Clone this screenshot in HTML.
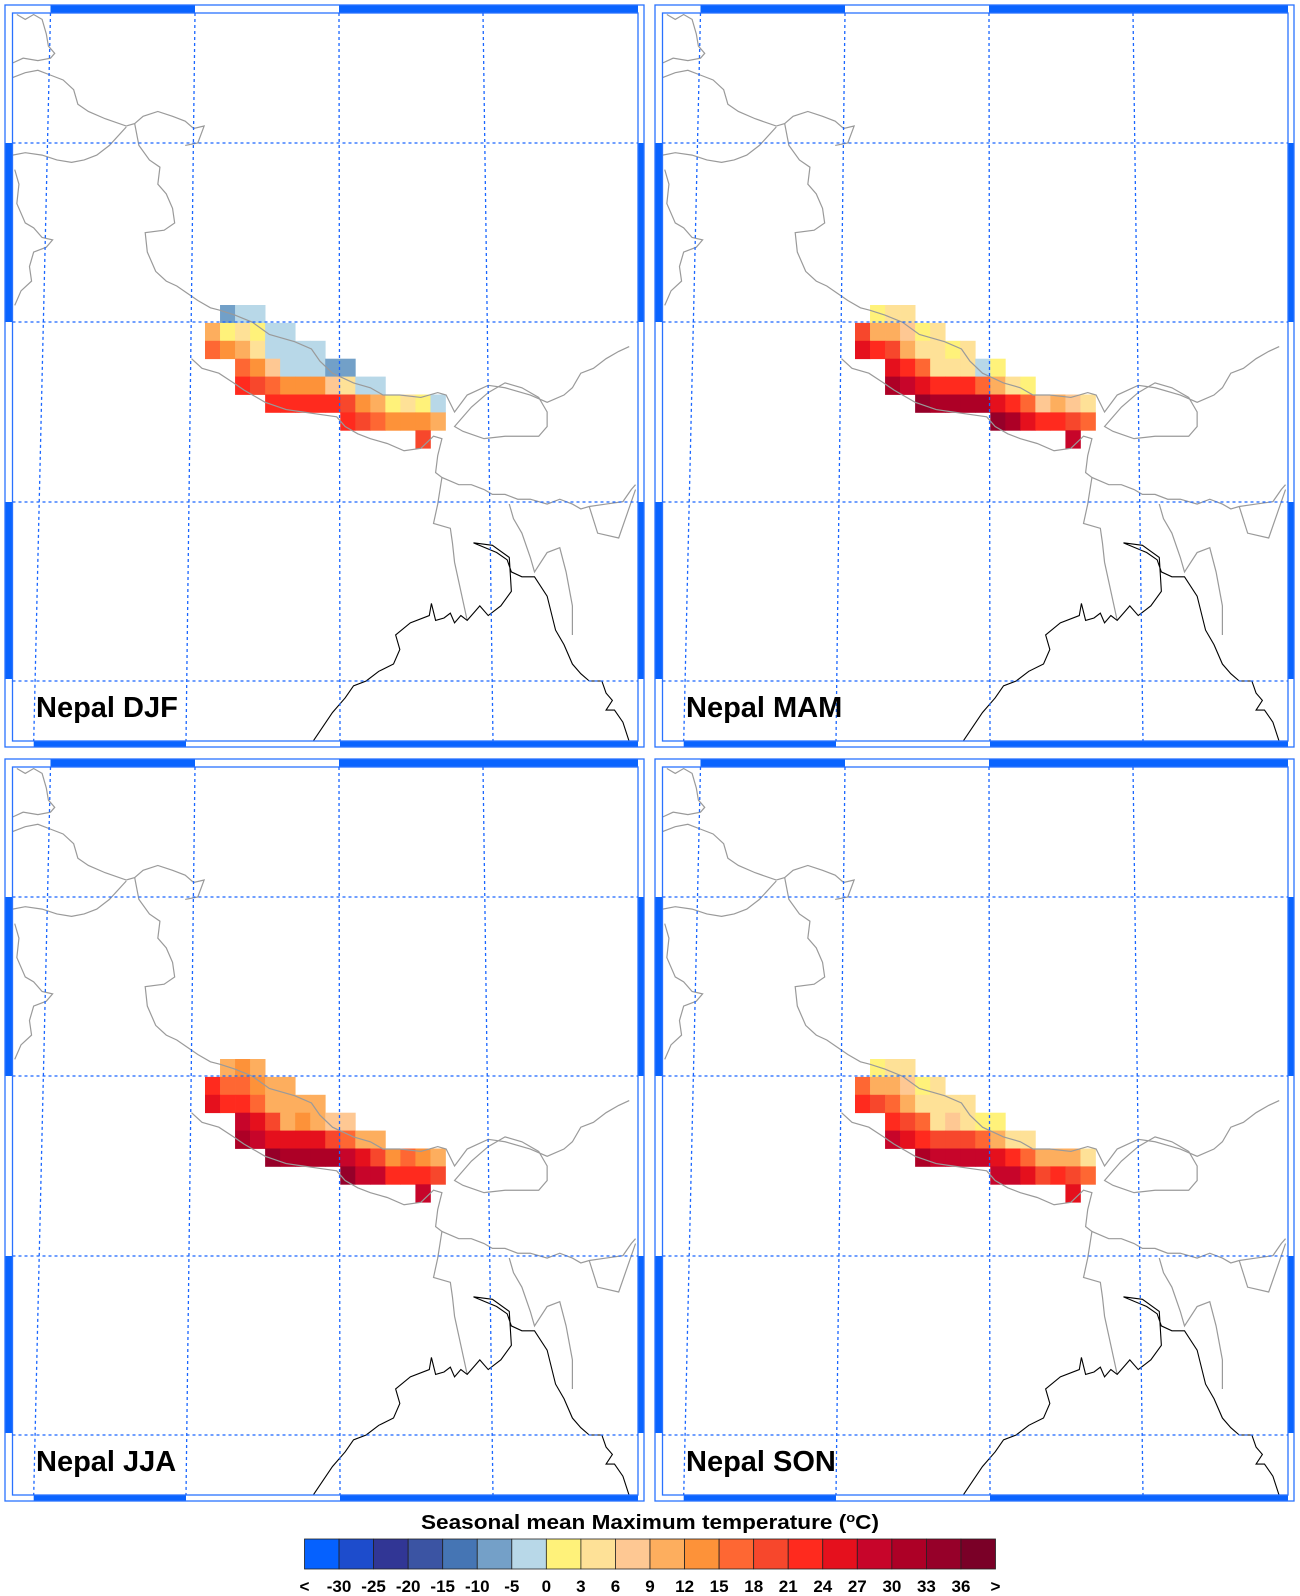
<!DOCTYPE html>
<html><head><meta charset="utf-8">
<style>
html,body{margin:0;padding:0;background:#fff;}
svg{display:block;}
text{font-family:"Liberation Sans",Arial,sans-serif;font-weight:bold;fill:#000;}
</style></head>
<body>
<svg id="s" width="1300" height="1596" viewBox="0 0 1300 1596" xmlns="http://www.w3.org/2000/svg">
<defs>
<g id="map">
 <g transform="scale(0.42088,0.48469)" fill="none" stroke="#9a9a9a" stroke-width="1.2">
  <path vector-effect="non-scaling-stroke" d="M30,130 L55,120 L90,125 L120,120 L130,110 L115,95 L110,70 L100,40 L80,30 L60,40 L40,30"/>
  <path vector-effect="non-scaling-stroke" d="M30,160 L60,150 L90,145 L120,155 L150,165 L175,185 L185,215 L210,230 L250,245 L300,260 L320,255 L340,240 L375,230 L410,240 L440,250 L460,265 L485,260 L470,295 L440,300"/>
  <path vector-effect="non-scaling-stroke" d="M30,320 L60,315 L100,320 L135,330 L170,335 L200,330 L230,320 L260,300 L300,262"/>
  <path vector-effect="non-scaling-stroke" d="M320,255 L330,300 L355,330 L380,345 L375,380 L395,400 L410,430 L415,460 L390,475 L345,480 L350,520 L370,560 L395,580 L420,590 L445,605 L470,620 L500,635 L522,640 L558,650 L600,665 L640,690 L700,705 L740,720 L760,745 L790,770 L840,790 L880,800 L910,815 L950,815 L1000,820 L1040,810 L1060,815 L1080,850 L1110,815 L1160,795 L1200,800 L1260,815 L1300,830 L1340,815 L1360,800 L1380,770 L1410,760 L1440,740 L1470,725 L1495,715"/>
  <path vector-effect="non-scaling-stroke" d="M35,350 L45,380 L40,420 L60,460 L80,470 L100,490 L125,495 L110,510 L80,520 L70,550 L75,580 L50,600 L35,630"/>
  <path vector-effect="non-scaling-stroke" d="M455,740 L480,760 L520,770 L555,790 L580,805 L630,830 L680,845 L720,850 L760,855 L800,860 L820,880 L850,895 L880,905 L920,915 L960,930 L1000,925 L1030,900 L1050,905 L1040,940 L1035,975 L1050,985 L1090,1000 L1120,1000 L1150,1010 L1170,1020 L1200,1020 L1230,1030 L1260,1030 L1300,1040 L1330,1030 L1360,1040 L1380,1050 L1400,1045 L1440,1040 L1480,1035 L1500,1010 L1510,1000"/>
  <path vector-effect="non-scaling-stroke" d="M1080,880 L1120,840 L1160,810 L1200,790 L1240,800 L1280,820 L1300,850 L1300,880 L1280,900 L1240,900 L1200,900 L1150,905 L1100,890 Z"/>
  <path vector-effect="non-scaling-stroke" d="M1050,985 L1040,1040 L1030,1080 L1070,1090 L1075,1120 L1080,1160 L1090,1200 L1100,1240 L1110,1280"/>
  <path vector-effect="non-scaling-stroke" d="M1210,1040 L1220,1070 L1240,1100 L1260,1150 L1270,1180 L1300,1140 L1330,1130 L1345,1180 L1360,1250 L1360,1310"/>
  <path vector-effect="non-scaling-stroke" d="M1400,1045 L1420,1100 L1470,1110 L1490,1060 L1510,1010"/>
 </g>
 <g transform="scale(0.42088,0.48469)" fill="none" stroke="#000" stroke-width="1.1">
  <path vector-effect="non-scaling-stroke" d="M745,1528 L790,1470 L820,1440 L840,1415 L870,1405 L900,1385 L935,1370 L950,1340 L940,1310 L975,1285 L1020,1270 L1025,1245 L1035,1280 L1055,1275 L1070,1265 L1080,1285 L1095,1270 L1110,1280 L1130,1260 L1140,1250 L1160,1270 L1190,1250 L1215,1220 L1210,1150 L1170,1125 L1125,1120 L1180,1140 L1205,1155 L1215,1180 L1240,1190 L1270,1190 L1300,1230 L1320,1300 L1340,1330 L1360,1370 L1380,1390 L1400,1405 L1430,1405 L1440,1430 L1455,1445 L1440,1465 L1460,1465 L1480,1490 L1495,1530"/>
 </g>
</g>
<g id="frame">
 <g fill="#0a64ff">
  <rect x="50.5" y="5" width="144.5" height="8"/>
  <rect x="339" y="5" width="299" height="8"/>
  <rect x="33.7" y="741" width="152.3" height="6"/>
  <rect x="340" y="741" width="298" height="6"/>
  <rect x="5" y="143" width="7.5" height="179"/>
  <rect x="5" y="502" width="7.5" height="177"/>
  <rect x="638" y="143" width="6" height="179"/>
  <rect x="638" y="502" width="6" height="177"/>
 </g>
 <rect x="5" y="5" width="639" height="742" fill="none" stroke="#2a72ff" stroke-width="1.3"/>
 <rect x="12.5" y="13" width="625.5" height="728" fill="none" stroke="#2a72ff" stroke-width="1.3"/>
 <g stroke="#1a66ff" stroke-width="1.3" stroke-dasharray="3,3" fill="none">
  <path d="M12.5,143 H638 M12.5,322 H638 M12.5,502 H638 M12.5,681 H638"/>
  <path d="M50.5,13 L33.7,741 M195,13 L186,741 M339,13 L340,741 M483,13 L493,741"/>
 </g>
</g>
</defs>

<g id="p0"></g><g id="p1" transform="translate(650,0)"></g>
<g id="p2" transform="translate(0,754)"></g><g id="p3" transform="translate(650,754)"></g>

<text x="36" y="717" font-size="29">Nepal DJF</text>
<text x="686" y="717" font-size="29">Nepal MAM</text>
<text x="36" y="1471" font-size="29">Nepal JJA</text>
<text x="686" y="1471" font-size="29">Nepal SON</text>

<text x="650" y="1529" font-size="20" text-anchor="middle" textLength="458" lengthAdjust="spacingAndGlyphs">Seasonal mean Maximum temperature (<tspan font-size="13" dy="-7">o</tspan><tspan dy="7">C)</tspan></text>
<g id="cb"></g>
<g font-size="17" text-anchor="middle">
<text x="304.5" y="1592">&lt;</text><text x="339" y="1592">-30</text><text x="373.6" y="1592">-25</text><text x="408.2" y="1592">-20</text><text x="442.7" y="1592">-15</text><text x="477.3" y="1592">-10</text><text x="511.8" y="1592">-5</text><text x="546.4" y="1592">0</text><text x="580.9" y="1592">3</text><text x="615.5" y="1592">6</text><text x="650" y="1592">9</text><text x="684.6" y="1592">12</text><text x="719.1" y="1592">15</text><text x="753.7" y="1592">18</text><text x="788.2" y="1592">21</text><text x="822.8" y="1592">24</text><text x="857.3" y="1592">27</text><text x="891.9" y="1592">30</text><text x="926.4" y="1592">33</text><text x="961" y="1592">36</text><text x="995.5" y="1592">&gt;</text>
</g>
</svg>
<script>
var NS="http://www.w3.org/2000/svg";
var C={"-10":"#72a0c8","-5":"#b8d8e8","0":"#fff27a","3":"#fee197","6":"#fec893","9":"#fdae5e","12":"#fd9239","15":"#fe6733","18":"#f7472c","21":"#ff2a1e","24":"#e5101d","27":"#c7052a","30":"#ad0026","33":"#960029","36":"#7a0027"};
// rows: [startCol, values...]
var D=[
[[1,-10,-5,-5],[0,9,0,3,0,-5,-5],[0,15,12,9,3,-5,-5,-5,-5],[2,15,12,6,-5,-5,-5,-10,-10],[2,21,18,15,12,12,12,6,3,-5,-5],[4,21,21,21,21,21,18,12,9,0,3,0,-5],[9,21,18,15,12,12,12,9],[14,18]],
[[1,0,3,3],[0,18,9,9,6,0,3],[0,24,21,18,9,3,3,0,3],[2,24,21,15,3,3,3,-5,0],[2,30,27,24,21,21,21,15,9,3,0],[4,33,30,30,30,30,24,21,15,6,9,6,3],[9,33,30,24,21,21,18,15],[14,27]],
[[1,9,12,9],[0,21,15,15,12,9,9],[0,24,21,21,15,9,9,9,9],[2,27,24,18,9,12,9,6,6],[2,30,27,24,24,24,24,18,15,9,9],[4,33,30,30,30,30,27,24,18,12,15,12,9],[9,33,27,27,21,21,21,18],[14,27]],
[[1,0,3,3],[0,15,9,9,6,0,3],[0,21,18,15,9,3,3,3,3],[2,21,18,15,3,6,3,0,0],[2,27,24,21,18,18,18,15,9,3,3],[4,30,27,27,27,27,24,21,15,9,9,9,3],[9,27,27,24,18,21,18,15],[14,24]]
];
for(var p=0;p<4;p++){
 var g=document.getElementById("p"+p);
 var cg=document.createElementNS(NS,"g");
 D[p].forEach(function(r,j){
  for(var k=1;k<r.length;k++){
   var e=document.createElementNS(NS,"rect");
   e.setAttribute("x",205+15.03*(r[0]+k-1));e.setAttribute("y",305+17.9*j);
   e.setAttribute("width",15.4);e.setAttribute("height",18.3);
   e.setAttribute("fill",C[r[k]]);cg.appendChild(e);
  }
 });
 g.appendChild(cg);
 var u1=document.createElementNS(NS,"use");u1.setAttribute("href","#map");g.appendChild(u1);
 var u2=document.createElementNS(NS,"use");u2.setAttribute("href","#frame");g.appendChild(u2);
}
var cols=["#0561ff","#1d4ccc","#313695","#3b54a3","#4575b4","#74a0c8","#b8d8e8","#fff27a","#fee197","#fec893","#fdae5e","#fd9239","#fe6733","#f7472c","#ff2a1e","#e5101d","#c7052a","#ad0026","#960029","#7a0027"];
var cb=document.getElementById("cb");
cols.forEach(function(c,i){
 var e=document.createElementNS(NS,"rect");
 e.setAttribute("x",304.5+34.55*i);e.setAttribute("y",1539);e.setAttribute("width",34.55);e.setAttribute("height",30);
 e.setAttribute("fill",c);e.setAttribute("stroke","#222");e.setAttribute("stroke-width","0.8");cb.appendChild(e);
});
</script>
</body></html>
